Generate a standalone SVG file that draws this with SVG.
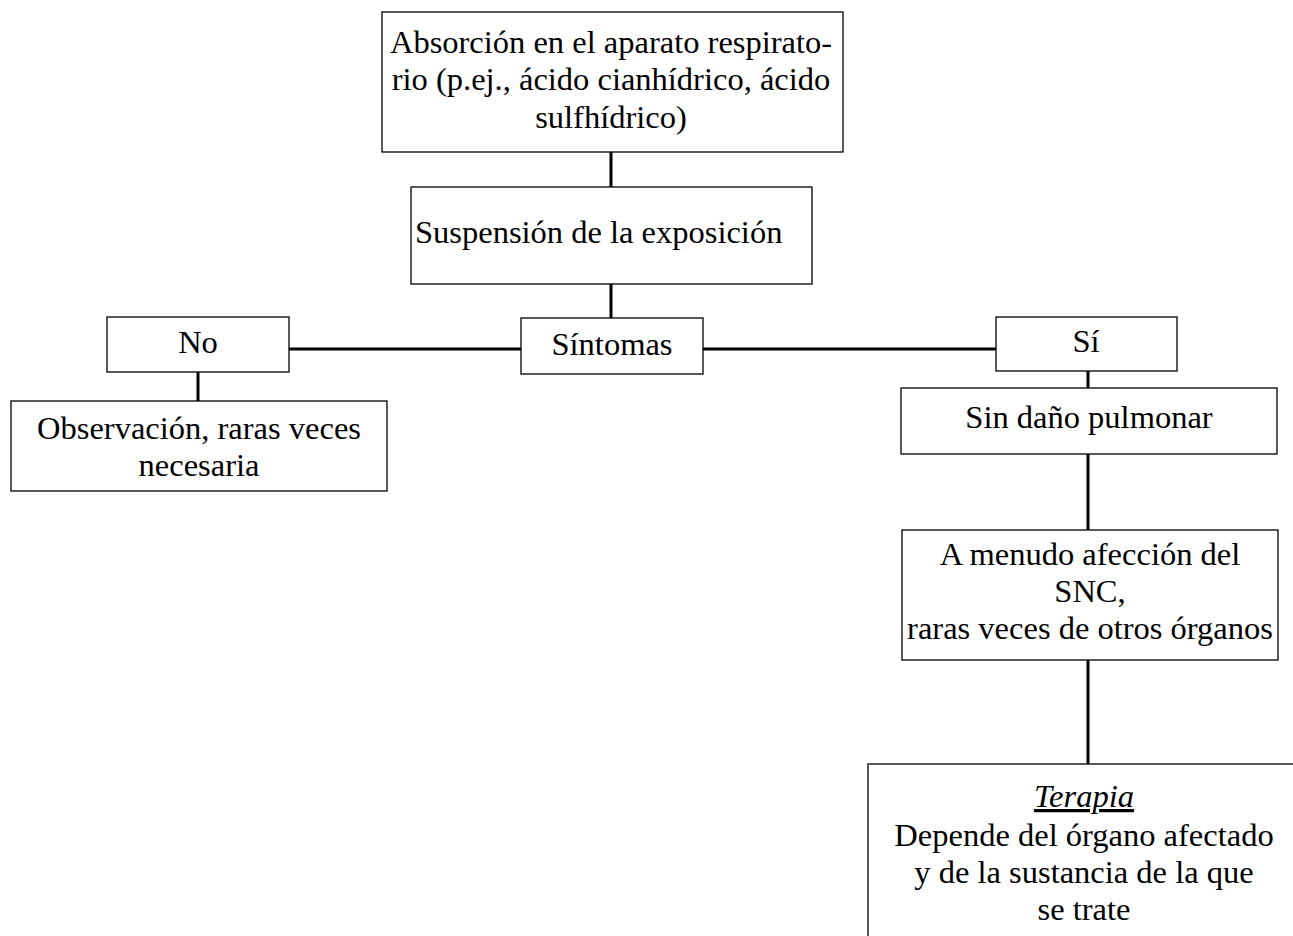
<svg xmlns="http://www.w3.org/2000/svg" width="1293" height="936" viewBox="0 0 1293 936">
<style>
.box{fill:#fff;stroke:#000;stroke-width:1.3}
.t{font-family:"Liberation Serif","Times New Roman",serif;font-size:32.5px;fill:#000;text-anchor:middle}
.c{stroke:#000;stroke-width:3;fill:none}
</style>
<rect width="1293" height="936" fill="#fff"/>
<g id="connectors">
<line class="c" x1="611" y1="152" x2="611" y2="187"/>
<line class="c" x1="611" y1="284" x2="611" y2="318"/>
<line class="c" x1="289" y1="349" x2="521" y2="349"/>
<line class="c" x1="703" y1="349" x2="996" y2="349"/>
<line class="c" x1="198" y1="372" x2="198" y2="401"/>
<line class="c" x1="1088" y1="371" x2="1088" y2="388"/>
<line class="c" x1="1088" y1="454" x2="1088" y2="530"/>
<line class="c" x1="1088" y1="660" x2="1088" y2="764"/>
</g>
<g id="n1">
<rect class="box" x="382" y="12" width="461" height="140"/>
<text class="t" x="611" y="53">Absorción en el aparato respirato-</text>
<text class="t" x="611" y="90">rio (p.ej., ácido cianhídrico, ácido</text>
<text class="t" x="611" y="128">sulfhídrico)</text>
</g>
<g id="n2">
<rect class="box" x="411" y="187" width="401" height="97"/>
<text class="t" x="415" y="243" style="text-anchor:start">Suspensión de la exposición</text>
</g>
<g id="n3">
<rect class="box" x="521" y="318" width="182" height="56"/>
<text class="t" x="612" y="355">Síntomas</text>
</g>
<g id="n4">
<rect class="box" x="107" y="317" width="182" height="55"/>
<text class="t" x="198" y="353">No</text>
</g>
<g id="n5">
<rect class="box" x="11" y="401" width="376" height="90"/>
<text class="t" x="199" y="439">Observación, raras veces</text>
<text class="t" x="199" y="476">necesaria</text>
</g>
<g id="n6">
<rect class="box" x="996" y="317" width="181" height="54"/>
<text class="t" x="1086" y="352">Sí</text>
</g>
<g id="n7">
<rect class="box" x="901" y="388" width="376" height="66"/>
<text class="t" x="1089" y="428">Sin daño pulmonar</text>
</g>
<g id="n8">
<rect class="box" x="902" y="530" width="376" height="130"/>
<text class="t" x="1090" y="565">A menudo afección del</text>
<text class="t" x="1090" y="602">SNC,</text>
<text class="t" x="1090" y="639">raras veces de otros órganos</text>
</g>
<g id="n9">
<rect class="box" x="868" y="764" width="440" height="190"/>
<text class="t" x="1084" y="807" style="font-style:italic;text-decoration:underline">Terapia</text>
<text class="t" x="1084" y="846">Depende del órgano afectado</text>
<text class="t" x="1084" y="883">y de la sustancia de la que</text>
<text class="t" x="1084" y="920">se trate</text>
</g>
</svg>
